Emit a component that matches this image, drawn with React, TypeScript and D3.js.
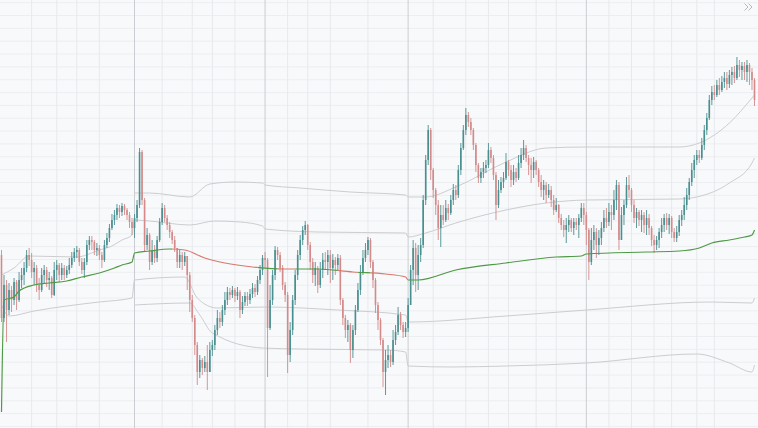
import React from 'react';
import * as d3 from 'd3';

const W = 758;
const H = 428;

// ---- price data (one candle per bar, open = previous close) ----
const firstOpen = 147.45;
const closes = [
  146.82, 147.15, 146.90, 147.10, 147.00, 147.18, 147.00, 147.20, 147.25, 147.32,
  147.45, 147.40, 147.28, 147.32, 147.15, 147.10, 147.25, 147.30, 147.20, 147.22,
  147.05, 147.30, 147.35, 147.25, 147.32, 147.25, 147.30, 147.35, 147.42, 147.48,
  147.50, 147.38, 147.30, 147.38, 147.55, 147.60, 147.58, 147.50, 147.52, 147.45,
  147.40, 147.55, 147.62, 147.72, 147.80, 147.85, 147.92, 147.88, 147.94, 147.90,
  147.85, 147.78, 147.72, 147.82, 147.95, 148.48, 148.00, 147.55, 147.65, 147.38,
  147.50, 147.42, 147.60, 147.78, 147.92, 147.82, 147.75, 147.68, 147.60, 147.52,
  147.38, 147.45, 147.38, 147.44, 147.25, 147.00, 146.82, 146.55, 146.28, 146.40,
  146.32, 146.38, 146.28, 146.50, 146.55, 146.70, 146.82, 146.78, 146.90, 147.00,
  147.08, 147.05, 147.10, 147.04, 147.08, 146.90, 146.98, 147.04, 147.00, 147.06,
  147.12, 147.08, 147.20, 147.30, 147.42, 147.40, 146.72, 147.00, 147.25, 147.50,
  147.45, 147.32, 147.15, 147.05, 146.45, 146.70, 147.00, 147.25, 147.45, 147.60,
  147.70, 147.75, 147.55, 147.38, 147.25, 147.32, 147.15, 147.30, 147.40, 147.38,
  147.45, 147.32, 147.40, 147.35, 147.42, 147.00, 146.82, 146.70, 146.75, 146.50,
  146.70, 146.90, 147.10, 147.28, 147.42, 147.50, 147.60, 147.38, 147.20, 146.95,
  146.80, 146.60, 146.28, 146.40, 146.45, 146.38, 146.60, 146.68, 146.85, 146.75,
  146.68, 146.72, 146.95, 147.30, 147.52, 147.25, 147.45, 147.55, 148.00, 148.40,
  148.70, 148.30, 148.10, 147.95, 147.72, 147.85, 147.80, 147.92, 147.87, 148.00,
  148.10, 148.05, 148.30, 148.52, 148.70, 148.85, 148.78, 148.70, 148.55, 148.35,
  148.22, 148.28, 148.32, 148.35, 148.50, 148.42, 148.25, 147.95, 148.10, 148.18,
  148.22, 148.38, 148.30, 148.20, 148.28, 148.22, 148.37, 148.45, 148.52, 148.42,
  148.35, 148.30, 148.38, 148.30, 148.18, 148.10, 148.15, 148.05, 148.10, 148.00,
  147.90, 147.95, 147.82, 147.75, 147.70, 147.75, 147.80, 147.72, 147.78, 147.75,
  147.82, 147.92, 147.85, 147.70, 147.38, 147.60, 147.68, 147.55, 147.62, 147.72,
  147.82, 147.78, 147.88, 147.85, 148.00, 148.15, 147.60, 147.85, 147.95, 148.15,
  148.10, 147.95, 147.82, 147.88, 147.80, 147.85, 147.75, 147.82, 147.72, 147.60,
  147.55, 147.60, 147.68, 147.75, 147.82, 147.75, 147.82, 147.68, 147.62, 147.68,
  147.80, 147.85, 147.95, 148.05, 148.18, 148.30, 148.40, 148.45, 148.42, 148.55,
  148.70, 148.82, 149.00, 149.08, 149.05, 149.15, 149.10, 149.18, 149.22, 149.16,
  149.25, 149.28, 149.22, 149.35, 149.30, 149.34, 149.28, 149.35, 149.28, 149.20,
  149.00,
];
const highs = [
  147.50, 147.25, 147.20, 147.17, 147.14, 147.22, 147.20, 147.28, 147.32, 147.38,
  147.50, 147.52, 147.47, 147.38, 147.35, 147.22, 147.32, 147.35, 147.33, 147.28,
  147.24, 147.38, 147.40, 147.37, 147.37, 147.35, 147.34, 147.42, 147.48, 147.52,
  147.54, 147.52, 147.42, 147.42, 147.60, 147.64, 147.64, 147.60, 147.57, 147.55,
  147.48, 147.60, 147.67, 147.76, 147.86, 147.90, 147.96, 147.95, 147.97, 147.96,
  147.92, 147.88, 147.82, 147.86, 148.00, 148.52, 148.50, 148.02, 147.72, 147.67,
  147.60, 147.55, 147.64, 147.82, 147.97, 147.95, 147.85, 147.78, 147.70, 147.64,
  147.50, 147.50, 147.48, 147.48, 147.44, 147.28, 147.05, 146.85, 146.58, 146.45,
  146.42, 146.44, 146.55, 146.58, 146.60, 146.75, 146.90, 146.88, 146.95, 147.08,
  147.13, 147.12, 147.14, 147.12, 147.13, 147.10, 147.04, 147.08, 147.08, 147.11,
  147.17, 147.16, 147.24, 147.35, 147.45, 147.48, 147.42, 147.15, 147.30, 147.54,
  147.53, 147.48, 147.35, 147.18, 147.08, 146.78, 147.05, 147.30, 147.50, 147.65,
  147.74, 147.79, 147.76, 147.58, 147.42, 147.38, 147.34, 147.38, 147.47, 147.48,
  147.50, 147.50, 147.46, 147.43, 147.46, 147.45, 147.02, 146.85, 146.80, 146.77,
  146.75, 146.95, 147.17, 147.35, 147.50, 147.57, 147.63, 147.62, 147.40, 147.22,
  146.98, 146.82, 146.62, 146.50, 146.55, 146.50, 146.70, 146.75, 146.93, 146.88,
  146.78, 146.78, 147.02, 147.35, 147.60, 147.57, 147.55, 147.62, 148.05, 148.45,
  148.75, 148.72, 148.32, 148.12, 148.00, 147.95, 147.95, 148.00, 147.96, 148.05,
  148.16, 148.15, 148.35, 148.57, 148.75, 148.92, 148.88, 148.82, 148.72, 148.57,
  148.37, 148.32, 148.38, 148.40, 148.57, 148.53, 148.45, 148.28, 148.20, 148.23,
  148.28, 148.47, 148.40, 148.35, 148.35, 148.32, 148.45, 148.52, 148.60, 148.55,
  148.45, 148.42, 148.43, 148.40, 148.32, 148.25, 148.20, 148.18, 148.16, 148.14,
  148.05, 148.02, 147.96, 147.86, 147.80, 147.82, 147.85, 147.82, 147.82, 147.82,
  147.86, 147.97, 147.97, 147.88, 147.72, 147.72, 147.75, 147.72, 147.70, 147.78,
  147.90, 147.92, 147.97, 147.95, 148.10, 148.20, 148.18, 147.93, 148.00, 148.23,
  148.25, 148.12, 148.00, 147.92, 147.90, 147.90, 147.88, 147.90, 147.86, 147.74,
  147.65, 147.64, 147.72, 147.82, 147.86, 147.87, 147.86, 147.84, 147.72, 147.74,
  147.85, 147.90, 148.03, 148.12, 148.22, 148.37, 148.45, 148.50, 148.50, 148.62,
  148.75, 148.87, 149.05, 149.14, 149.15, 149.20, 149.22, 149.24, 149.28, 149.28,
  149.30, 149.33, 149.34, 149.43, 149.40, 149.38, 149.38, 149.40, 149.37, 149.32,
  149.22,
];
const lows = [
  146.78, 146.78, 146.58, 146.85, 146.88, 146.95, 146.90, 146.98, 147.12, 147.15,
  147.28, 147.34, 147.22, 147.15, 147.08, 147.00, 147.08, 147.17, 147.13, 147.10,
  147.02, 147.04, 147.20, 147.18, 147.20, 147.20, 147.22, 147.26, 147.32, 147.38,
  147.42, 147.34, 147.26, 147.22, 147.35, 147.50, 147.50, 147.45, 147.44, 147.40,
  147.32, 147.38, 147.52, 147.58, 147.70, 147.75, 147.80, 147.82, 147.84, 147.85,
  147.80, 147.72, 147.65, 147.62, 147.78, 147.92, 147.95, 147.48, 147.50, 147.30,
  147.35, 147.37, 147.38, 147.58, 147.75, 147.78, 147.70, 147.62, 147.56, 147.48,
  147.32, 147.32, 147.30, 147.34, 147.10, 146.88, 146.78, 146.45, 146.15, 146.22,
  146.25, 146.28, 146.10, 146.28, 146.44, 146.50, 146.65, 146.72, 146.74, 146.85,
  146.95, 147.00, 147.02, 146.98, 147.00, 146.82, 146.86, 146.94, 146.94, 146.96,
  147.02, 147.03, 147.05, 147.16, 147.25, 147.32, 146.23, 146.70, 146.95, 147.20,
  147.40, 147.28, 147.10, 146.98, 146.27, 146.38, 146.65, 146.95, 147.20, 147.40,
  147.55, 147.65, 147.50, 147.30, 147.17, 147.14, 147.07, 147.12, 147.22, 147.30,
  147.25, 147.17, 147.20, 147.25, 147.30, 146.95, 146.75, 146.62, 146.58, 146.37,
  146.42, 146.65, 146.88, 147.05, 147.25, 147.38, 147.45, 147.32, 147.12, 146.87,
  146.70, 146.55, 146.13, 146.05, 146.32, 146.33, 146.35, 146.55, 146.65, 146.70,
  146.62, 146.63, 146.68, 147.00, 147.15, 147.08, 147.10, 147.38, 147.52, 147.95,
  148.35, 148.20, 148.02, 147.85, 147.60, 147.53, 147.75, 147.78, 147.80, 147.85,
  147.95, 148.00, 148.02, 148.25, 148.50, 148.65, 148.73, 148.65, 148.50, 148.28,
  148.17, 148.17, 148.22, 148.27, 148.32, 148.37, 148.20, 147.80, 147.92, 148.07,
  148.12, 148.20, 148.24, 148.13, 148.15, 148.18, 148.20, 148.32, 148.40, 148.38,
  148.25, 148.17, 148.22, 148.25, 148.13, 148.03, 148.00, 147.97, 148.02, 147.93,
  147.85, 147.88, 147.77, 147.70, 147.63, 147.57, 147.68, 147.68, 147.65, 147.70,
  147.62, 147.78, 147.75, 147.55, 147.20, 147.35, 147.50, 147.42, 147.45, 147.55,
  147.68, 147.72, 147.74, 147.70, 147.80, 147.90, 147.50, 147.62, 147.75, 147.92,
  148.02, 147.88, 147.77, 147.72, 147.74, 147.68, 147.67, 147.65, 147.65, 147.54,
  147.47, 147.50, 147.52, 147.62, 147.68, 147.70, 147.66, 147.62, 147.58, 147.58,
  147.64, 147.74, 147.80, 147.90, 148.00, 148.14, 148.22, 148.35, 148.37, 148.40,
  148.50, 148.65, 148.80, 148.95, 149.00, 149.03, 149.05, 149.08, 149.12, 149.10,
  149.12, 149.15, 149.17, 149.20, 149.23, 149.20, 149.20, 149.18, 149.15, 149.10,
  148.94,
];

// ---- indicator lines: [bar index, price] ----
const vwapLine = [
  [0, 145.88], [1, 147.0], [5, 147.03], [7, 147.09], [13, 147.15], [19, 147.17], [26, 147.19],
  [32, 147.23], [39, 147.27], [45, 147.32], [48, 147.35], [52, 147.38], [53, 147.47], [59, 147.49],
  [67, 147.51], [73, 147.5], [81, 147.42], [89, 147.37], [100, 147.33], [113, 147.31], [126, 147.31],
  [140, 147.28], [153, 147.26], [161, 147.23], [162, 147.2], [166, 147.2], [181, 147.3], [201, 147.37],
  [221, 147.43], [231, 147.44], [233, 147.46], [257, 147.48], [270, 147.49], [278, 147.52],
  [283, 147.57], [290, 147.6], [296, 147.63], [299, 147.65], [300, 147.7],
];
const vwapBelowRanges = [[68, 102], [110, 117], [134, 142], [147, 162]];
const upper1 = [
  [0, 147.25], [5, 147.32], [11, 147.44], [30, 147.43], [39, 147.5], [44, 147.54], [48, 147.6],
  [52, 147.65], [53, 147.8], [59, 147.79], [75, 147.75], [85, 147.79], [95, 147.78], [104, 147.74],
  [105, 147.71], [126, 147.68], [161, 147.67], [162, 147.63], [169, 147.67], [181, 147.77],
  [201, 147.9], [217, 147.97], [233, 148.0], [270, 148.01], [277, 148.03], [290, 148.17],
  [299, 148.37], [300, 148.42],
];
const upper2 = [
  [53, 148.07], [59, 148.07], [75, 148.03], [83, 148.16], [93, 148.18], [104, 148.17], [105, 148.15],
  [119, 148.12], [139, 148.08], [161, 148.05], [162, 148.03], [169, 148.03], [181, 148.13],
  [201, 148.38], [217, 148.52], [233, 148.53], [270, 148.53], [278, 148.57], [290, 148.77],
  [299, 149.02], [300, 149.05],
];
const lower1 = [
  [0, 146.95], [3, 146.84], [13, 146.89], [26, 146.94], [39, 146.98], [52, 147.02], [53, 147.2],
  [73, 147.23], [78, 147.02], [86, 146.92], [105, 146.93], [134, 146.9], [161, 146.85], [162, 146.78],
  [201, 146.84], [233, 146.9], [283, 146.98], [299, 146.97], [300, 147.02],
];
const lower2 = [
  [53, 146.95], [75, 146.97], [79, 146.85], [84, 146.67], [104, 146.52], [119, 146.51], [153, 146.5],
  [161, 146.48], [162, 146.34], [179, 146.33], [201, 146.34], [233, 146.37], [277, 146.46],
  [290, 146.37], [299, 146.28], [300, 146.35],
];

// ---- grid ----
const priceGridTop = 149.973;
const priceGridStep = 0.1284;
const priceGridCount = 34;
const minorTimeTicks = [12, 22, 30, 39, 64, 76, 84, 93, 114, 122, 131, 146, 172, 185, 194, 202, 213, 221, 242, 251, 260, 267, 277, 284];
const majorTimeTicks = [53, 105, 162, 233];

const UP = '#4a8f90';
const DOWN = '#d48a8a';

export default function App() {
  const N = closes.length;
  const x = d3.scaleLinear().domain([0, N - 1]).range([1.5, 754.5]);
  const y = d3.scaleLinear().domain([150, 145.72]).range([0, H]);
  const line = d3
    .line<number[]>()
    .x((d) => x(d[0]))
    .y((d) => y(d[1]))
    .curve(d3.curveMonotoneX);

  const hLines = d3.range(priceGridCount).map((k) => y(priceGridTop - k * priceGridStep));

  const redRects = vwapBelowRanges.map(([a, b]) => [x(a), x(b)]);
  const greenRects: number[][] = [];
  let start = -10;
  redRects.forEach(([a, b]) => {
    greenRects.push([start, a]);
    start = b;
  });
  greenRects.push([start, W + 10]);

  const bodyW = 1.6;
  const candles = closes.map((c, i) => {
    const o = i === 0 ? firstOpen : closes[i - 1];
    const hi = Math.max(highs[i], o, c);
    const lo = Math.min(lows[i], o, c);
    const up = c >= o;
    const top = y(Math.max(o, c));
    const bot = y(Math.min(o, c));
    return { i, cx: x(i), up, top, h: Math.max(1, bot - top), yh: y(hi), yl: y(lo) };
  });

  return (
    <svg
      width={W}
      height={H}
      style={{ position: 'absolute', left: 0, top: 0, display: 'block' }}
      xmlns="http://www.w3.org/2000/svg"
    >
      <defs>
        <clipPath id="clipRed">
          {redRects.map(([a, b], k) => (
            <rect key={k} x={a} y={0} width={b - a} height={H} />
          ))}
        </clipPath>
        <clipPath id="clipGreen">
          {greenRects.map(([a, b], k) => (
            <rect key={k} x={a} y={0} width={b - a} height={H} />
          ))}
        </clipPath>
      </defs>
      <rect x={0} y={0} width={W} height={H} fill="#f8f9fb" />
      <g stroke="#eceef1" strokeWidth={1}>
        {hLines.map((v, k) => (
          <line key={k} x1={0} x2={W} y1={v} y2={v} />
        ))}
      </g>
      <g stroke="#e7e9ed" strokeWidth={1}>
        {minorTimeTicks.map((t) => (
          <line key={t} x1={x(t)} x2={x(t)} y1={0} y2={H} />
        ))}
      </g>
      <g stroke="#cbcdd2" strokeWidth={1}>
        {majorTimeTicks.map((t) => (
          <line key={t} x1={x(t)} x2={x(t)} y1={0} y2={H} />
        ))}
      </g>
      <g fill="none" stroke="#cdcdd0" strokeWidth={1}>
        {[upper1, upper2, lower1, lower2].map((pts, k) => (
          <path key={k} d={line(pts) || ''} />
        ))}
      </g>
      <g>
        {candles.map((c) => (
          <g key={c.i} fill={c.up ? UP : DOWN} stroke={c.up ? UP : DOWN}>
            <line x1={c.cx} x2={c.cx} y1={c.yh} y2={c.yl} strokeWidth={0.9} />
            <rect x={c.cx - bodyW / 2} y={c.top} width={bodyW} height={c.h} stroke="none" />
          </g>
        ))}
      </g>
      <path d={line(vwapLine) || ''} fill="none" stroke="#4f9a45" strokeWidth={1.2} clipPath="url(#clipGreen)" />
      <path d={line(vwapLine) || ''} fill="none" stroke="#d9786c" strokeWidth={1.2} clipPath="url(#clipRed)" />
      <g fill="none" stroke="#b4b8bf" strokeWidth={1}>
        <path d="M744.5,3.5 L748,7 L744.5,10.5" />
        <path d="M748.5,3.5 L752,7 L748.5,10.5" />
      </g>
    </svg>
  );
}
